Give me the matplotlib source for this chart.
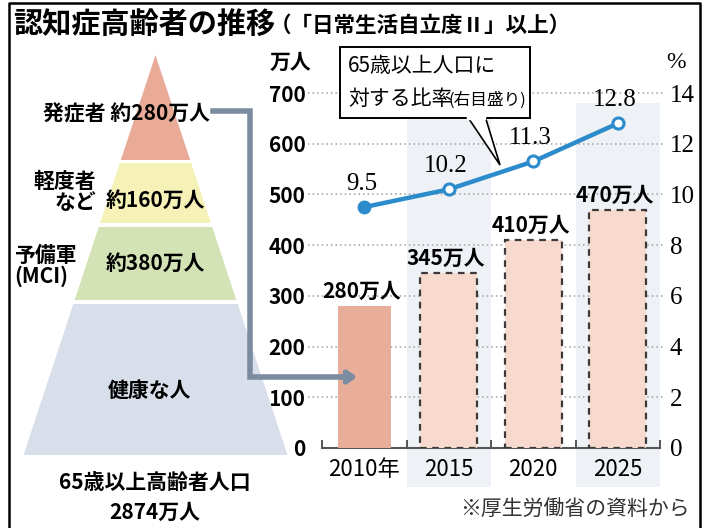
import numpy as np
import matplotlib
matplotlib.use('Agg')
import matplotlib.pyplot as plt
from matplotlib.patches import Polygon, Rectangle

plt.rcParams['font.family'] = ['Noto Sans CJK JP', 'DejaVu Sans']

# data
years = ['2010年', '2015', '2020', '2025']
patients = [280, 345, 410, 470]          # 万人
ratio = [9.5, 10.2, 11.3, 12.8]          # %
bar_labels = ['280万人', '345万人', '410万人', '470万人']

pyramid_names = ['発症者', '軽度者\nなど', '予備軍\n(MCI)', '健康な人']
pyramid_counts = ['約280万人', '約160万人', '約380万人', '']
pyramid_colors = ['#e9ab98', '#f6f1b6', '#d4e3b6', '#d8dfeb']

SERIF = 'Liberation Serif'
BLUE = '#2b8bcb'

fig = plt.figure(figsize=(7.08, 5.28), dpi=100)
W, H = 708, 528

def fx(px):
  return px / W

def fy(py):
  return 1 - py / H

# main chart axes
ax = fig.add_axes([fx(322), fy(448), fx(660) - fx(322), fy(93) - fy(448)])
ax.set_xlim(-0.5, 3.5)
ax.set_ylim(0, 700)
ax.patch.set_alpha(0)

x = np.arange(len(years))

# shaded columns behind 2015 and 2025
for i in [1, 3]:
  ax.add_patch(Rectangle((i - 0.5, -77), 1.0, 757, facecolor='#eef1f5',
                         edgecolor='none', clip_on=False, zorder=0))

for v in range(100, 701, 100):
  ax.axhline(v, xmin=-0.04, xmax=1.015, color='#a0a0a0', lw=1.1,
             ls=(0, (1, 2)), clip_on=False, zorder=1)

ax.bar(x[:1], patients[:1], width=0.63, color='#e8ae9a', zorder=3)
ax.bar(x[1:], patients[1:], width=0.68, color='#f7dacd', edgecolor='#3a3a3a',
       linestyle=(0, (3, 2.5)), linewidth=1.6, zorder=3)

for xi, v, lab in zip(x, patients, bar_labels):
  ax.annotate(lab, (xi, v), xytext=(-2, 3), textcoords='offset points',
              ha='center', va='bottom', fontsize=15, fontweight='bold', zorder=5)

ax.set_yticks(range(0, 701, 100))
ax.tick_params(axis='y', length=0, pad=12, labelsize=15)
for t in ax.get_yticklabels():
  t.set_fontweight('bold')
ax.set_xticks([-0.5, 0.5, 1.5, 2.5, 3.5])
ax.set_xticklabels([])
ax.tick_params(axis='x', direction='in', length=6, width=1.4, color='#555555')
ax.set_xticks(x, minor=True)
ax.set_xticklabels(years, minor=True, fontsize=16)
ax.tick_params(axis='x', which='minor', length=0, pad=7)
for side in ['top', 'right', 'left']:
  ax.spines[side].set_visible(False)
ax.spines['bottom'].set_color('#555555')
ax.spines['bottom'].set_linewidth(1.5)

# right axis: ratio
ax2 = ax.twinx()
ax2.set_ylim(0, 14)
ax2.set_yticks(range(0, 15, 2))
ax2.tick_params(axis='y', length=0, pad=7)
for t in ax2.get_yticklabels():
  t.set_fontfamily(SERIF)
  t.set_fontsize(18)
for side in ['top', 'right', 'left', 'bottom']:
  ax2.spines[side].set_visible(False)

ax2.plot(x, ratio, color=BLUE, lw=3.2, zorder=4)
ax2.plot(x[1:], ratio[1:], 'o', ms=8, mfc='white', mec=BLUE, mew=2.2, zorder=5)
ax2.plot(x[:1], ratio[:1], 'o', ms=9, color=BLUE, zorder=5)
for xi, v in zip(x, ratio):
  ax2.annotate(f'{v}', (xi, v), xytext=(-2, 9), textcoords='offset points',
               ha='center', va='bottom', fontsize=18, fontfamily=SERIF)

# overlay in pixel coordinates for the schematic parts
ov = fig.add_axes([0, 0, 1, 1], zorder=10)
ov.set_xlim(0, W)
ov.set_ylim(H, 0)
ov.axis('off')

# frame
ov.plot([9, 9, 700, 700], [H, 3, 3, H], color='black', lw=1.8)

fig.text(fx(13), fy(25), '認知症高齢者の推移', fontsize=21, fontweight='bold', va='center')
fig.text(fx(270), fy(25), '（「日常生活自立度Ⅱ」以上）', fontsize=15.5, fontweight='bold', va='center')

fig.text(fx(290), fy(62), '万人', fontsize=15, fontweight='bold', ha='center', va='center')
fig.text(fx(676), fy(62), '%', fontsize=17, fontfamily=SERIF, ha='center', va='center')

# pyramid
apex_x, apex_y, base_y, half_base = 155.5, 55, 455, 132
layers = [(55, 160), (163, 223), (227, 300), (304, 455)]
def hw(y):
  return half_base * (y - apex_y) / (base_y - apex_y)
for (y0, y1), c in zip(layers, pyramid_colors):
  pts = [(apex_x - hw(y0), y0), (apex_x + hw(y0), y0),
         (apex_x + hw(y1), y1), (apex_x - hw(y1), y1)]
  ov.add_patch(Polygon(pts, closed=True, facecolor=c, edgecolor='none'))

lab = dict(fontsize=15, fontweight='bold', va='center')
ov.text(210, 114, pyramid_names[0] + ' ' + pyramid_counts[0], ha='right', **lab)
ov.text(96, 192, pyramid_names[1], ha='right', linespacing=1.0, **lab)
ov.text(155, 200, pyramid_counts[1], ha='center', **lab)
ov.text(14, 266, pyramid_names[2], ha='left', linespacing=1.0, **lab)
ov.text(155, 263, pyramid_counts[2], ha='center', **lab)
ov.text(150, 390, pyramid_names[3], ha='center', **lab)
ov.text(155, 482, '65歳以上高齢者人口', ha='center', **lab)
ov.text(155, 512, '2874万人', ha='center', **lab)

# connector arrow to the 2010 bar
ov.plot([213, 250, 250, 345], [111, 111, 377, 377], color='#7b8ca1', lw=4,
        solid_joinstyle='miter')
ov.annotate('', xy=(360, 377), xytext=(338, 377),
            arrowprops=dict(arrowstyle='->,head_length=0.5,head_width=0.35',
                            color='#7b8ca1', lw=4))

# callout box
ov.add_patch(Polygon([(467, 116), (500, 165), (485, 116)], closed=True,
                     facecolor='white', edgecolor='black', lw=1.2, zorder=2))
ov.add_patch(Rectangle((340, 47), 190, 71, facecolor='white', edgecolor='black',
                       lw=1.4, zorder=3))
ov.plot([468, 484], [118, 118], color='white', lw=2.5, zorder=4)
ov.text(348, 66, '65歳以上人口に', fontsize=15, ha='left', va='center', zorder=5)
ov.text(348, 99, '対する比率', fontsize=15, ha='left', va='center', zorder=5)
ov.text(448, 100, '(右目盛り)', fontsize=12, ha='left', va='center', zorder=5)

fig.text(fx(690), fy(510), '※厚生労働省の資料から', fontsize=15, color='#333333',
         ha='right', va='center')

fig.savefig('out.png', dpi=100)
